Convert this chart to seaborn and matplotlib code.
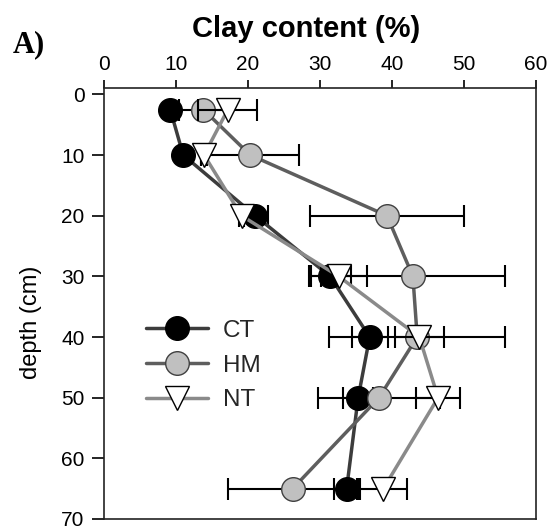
import matplotlib
matplotlib.use("Agg")
import matplotlib.pyplot as plt
import seaborn as sns
import numpy as np
import pandas as pd

# ---- data ----
depth = [2.5, 10, 20, 30, 40, 50, 65]
ct_clay = [9.2, 11.0, 21.0, 31.4, 36.9, 35.3, 33.7]
ct_err = [0.4, 0.4, 1.8, 2.9, 2.5, 2.1, 1.7]
hm_clay = [13.8, 20.3, 39.3, 42.9, 43.5, 38.2, 26.2]
hm_err = [3.4, 6.8, 10.7, 12.8, 12.2, 8.5, 9.0]
nt_clay = [17.2, 13.9, 19.1, 32.6, 43.8, 46.4, 38.8]
nt_err = [4.1, 0.4, 0.4, 3.9, 3.4, 3.1, 3.3]
series_names = ["CT", "HM", "NT"]
x_ticks = [0, 10, 20, 30, 40, 50, 60]
y_ticks = [0, 10, 20, 30, 40, 50, 60, 70]

sns.set_style("white")
plt.rcParams["font.family"] = ["Liberation Sans", "DejaVu Sans"]

W, H = 550, 529
fig = plt.figure(figsize=(W / 100, H / 100), dpi=100)
ax = fig.add_axes([104 / W, 1 - 519 / H, (536 - 104) / W, (519 - 88.3) / H])

styles = {
    "CT": dict(line="#3c3c3c", marker="o", face="black", edge="black", ms=17),
    "HM": dict(line="#5e5e5e", marker="o", face="#c0c0c0", edge="#404040", ms=17),
    "NT": dict(line="#8a8a8a", marker="v", face="white", edge="black", ms=17),
}
data = {"CT": (ct_clay, ct_err), "HM": (hm_clay, hm_err), "NT": (nt_clay, nt_err)}

z = 2
for name in series_names:
    vals, errs = data[name]
    st = styles[name]
    ax.errorbar(vals, depth, xerr=errs, fmt="none", ecolor="black",
                elinewidth=1.5, capsize=8, capthick=1.5, zorder=z)
    df = pd.DataFrame({"clay": vals, "depth": depth})
    sns.lineplot(data=df, x="clay", y="depth", sort=False, estimator=None,
                 ax=ax, color=st["line"], linewidth=2.5, marker=st["marker"],
                 markersize=st["ms"], markerfacecolor=st["face"],
                 markeredgecolor=st["edge"], markeredgewidth=1.0,
                 label=name, zorder=z + 1)
    z += 2

ax.set_xlim(0, 60)
ax.set_ylim(70, -1)
ax.set_xticks(x_ticks)
ax.set_yticks(y_ticks)
ax.xaxis.tick_top()
ax.xaxis.set_label_position("top")
ax.tick_params(axis="x", top=True, bottom=False, direction="out", length=6,
               width=1.2, pad=4, labelsize=15, colors="black")
ax.tick_params(axis="y", left=True, right=False, direction="out", length=9,
               width=1.2, pad=5, labelsize=15, colors="black")
ax.set_xlabel("")
ax.set_ylabel("")
for sp in ax.spines.values():
    sp.set_visible(True)
    sp.set_color("#222222")
    sp.set_linewidth(1.2)

leg = ax.legend(loc="center left", bbox_to_anchor=(146 / W, 1 - 365.5 / H),
                bbox_transform=fig.transFigure, frameon=False, fontsize=17.5,
                handlelength=2.55, handletextpad=0.6, labelspacing=0.52,
                borderpad=0, borderaxespad=0, markerscale=1.0)

fig.text(306.5 / W, 1 - 37 / H, "Clay content (%)", ha="center", va="baseline",
         fontsize=21, fontweight="bold", color="black")
fig.text(13 / W, 1 - 52.5 / H, "A)", ha="left", va="baseline",
         fontsize=22, fontweight="bold", family=["Liberation Serif", "DejaVu Serif"],
         color="black")
fig.text(31 / W, 1 - 322 / H, "depth (cm)", ha="center", va="center",
         rotation=90, fontsize=17, color="black")

fig.savefig("out.png", dpi=100)
